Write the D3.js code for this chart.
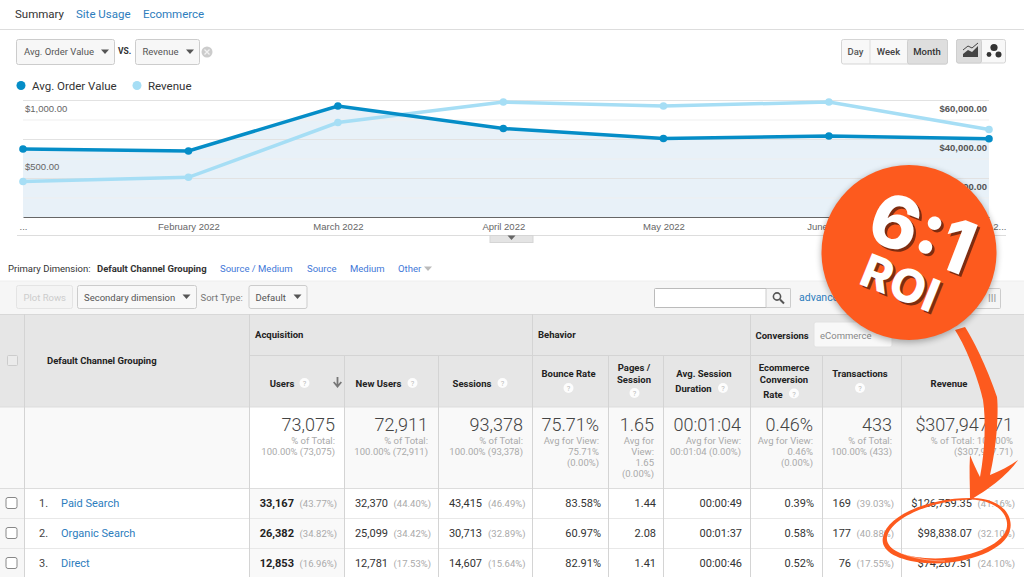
<!DOCTYPE html>
<html>
<head>
<meta charset="utf-8">
<script src="https://cdn.jsdelivr.net/npm/d3@7/dist/d3.min.js"></script>
<style>
  body { margin: 0; background: #fff; }
  svg { display: block; }
  text { font-family: Roboto, sans-serif; }
  .arial { font-family: "Liberation Sans", Arial, sans-serif; }
</style>
</head>
<body>
<div id="chart"></div>
<script>
// chart values
var months = ["2022-01-01", "2022-02-01", "2022-03-01", "2022-04-01", "2022-05-01", "2022-06-01", "2022-07-01"];
var monthLabels = ["...", "February 2022", "March 2022", "April 2022", "May 2022", "June 2022", "July 2..."];
var avgOrderValue = [581, 564, 949, 756, 671, 692, 669];
var revenue = [18200, 20350, 48450, 58950, 56900, 58950, 44900];
var leftTicks = [500, 1000];
var rightTicks = [20000, 40000, 60000];
var gridTicks = [10000, 20000, 30000, 40000, 50000, 60000];

// table values
var channels = ["Paid Search", "Organic Search", "Direct"];
var users = ["33,167", "26,382", "12,853"];
var usersPct = ["(43.77%)", "(34.82%)", "(16.96%)"];
var newUsers = ["32,370", "25,099", "12,781"];
var newUsersPct = ["(44.40%)", "(34.42%)", "(17.53%)"];
var sessions = ["43,415", "30,713", "14,607"];
var sessionsPct = ["(46.49%)", "(32.89%)", "(15.64%)"];
var bounceRate = ["83.58%", "60.97%", "82.91%"];
var pagesSession = ["1.44", "2.08", "1.41"];
var duration = ["00:00:49", "00:01:37", "00:00:46"];
var convRate = ["0.39%", "0.58%", "0.52%"];
var transactions = ["169", "177", "76"];
var transactionsPct = ["(39.03%)", "(40.88%)", "(17.55%)"];
var rowRevenue = ["$126,759.35", "$98,838.07", "$74,207.51"];
var revenuePct = ["(41.16%)", "(32.10%)", "(24.10%)"];
var totals = ["73,075", "72,911", "93,378", "75.71%", "1.65", "00:01:04", "0.46%", "433", "$307,947.71"];
var totalNotes = [
  ["% of Total:", "100.00% (73,075)"],
  ["% of Total:", "100.00% (72,911)"],
  ["% of Total:", "100.00% (93,378)"],
  ["Avg for View:", "75.71%", "(0.00%)"],
  ["Avg for", "View:", "1.65", "(0.00%)"],
  ["Avg for View:", "00:01:04 (0.00%)"],
  ["Avg for View:", "0.46%", "(0.00%)"],
  ["% of Total:", "100.00% (433)"],
  ["% of Total: 100.00%", "($307,947.71)"]
];

var svg = d3.select("#chart").append("svg").attr("width", 1024).attr("height", 577);

function txt(x, y, s, size, color, weight, anchor, cls) {
  return svg.append("text")
    .attr("x", x).attr("y", y)
    .attr("font-size", size)
    .attr("fill", color)
    .attr("font-weight", weight || 400)
    .attr("text-anchor", anchor || "start")
    .attr("class", cls || null)
    .text(s);
}
function box(x, y, w, h, fill, stroke, rx) {
  return svg.append("rect")
    .attr("x", x).attr("y", y).attr("width", w).attr("height", h)
    .attr("fill", fill)
    .attr("stroke", stroke || "none")
    .attr("rx", rx || 0);
}
function hline(x1, x2, y, color) {
  svg.append("line").attr("x1", x1).attr("x2", x2).attr("y1", y).attr("y2", y).attr("stroke", color);
}
function vline(x, y1, y2, color) {
  svg.append("line").attr("x1", x).attr("x2", x).attr("y1", y1).attr("y2", y2).attr("stroke", color);
}
function caret(x, y, color) {
  svg.append("path").attr("d", "M" + (x - 4) + "," + (y - 2) + "h8l-4,4.5z").attr("fill", color || "#555");
}
function help(x, y) {
  svg.append("circle").attr("cx", x).attr("cy", y).attr("r", 5).attr("fill", "#fff").attr("opacity", 0.9);
  txt(x, y + 3, "?", 7.5, "#bbb", 400, "middle");
}

// tabs
txt(15, 18, "Summary", 11.5, "#333");
txt(76, 18, "Site Usage", 11.5, "#2d7dbd");
txt(143, 18, "Ecommerce", 11.5, "#2d7dbd");
hline(0, 1024, 29.5, "#ddd");

// metric selectors
box(16.5, 39.5, 98, 25, "#f7f7f7", "#ccc", 2);
txt(24, 55, "Avg. Order Value", 9.5, "#555");
caret(105, 51.5);
txt(118, 54, "VS.", 8.5, "#333", 700);
box(135.5, 39.5, 64, 25, "#f7f7f7", "#ccc", 2);
txt(142.5, 55, "Revenue", 9.5, "#555");
caret(190, 51.5);
svg.append("circle").attr("cx", 207).attr("cy", 52).attr("r", 5.5).attr("fill", "#ccc");
svg.append("path").attr("d", "M204.5,49.5l5,5m0,-5l-5,5").attr("stroke", "#f2f2f2").attr("stroke-width", 1.3);

// day week month
box(841.5, 39.5, 106, 24.5, "#f8f8f8", "#d5d5d5", 2);
box(907.5, 39.5, 40, 24.5, "#dedede", "#cfcfcf", 2);
vline(870, 39.5, 64, "#ddd");
txt(855.5, 55, "Day", 9.5, "#555", 500, "middle");
txt(888.5, 55, "Week", 9.5, "#444", 500, "middle");
txt(927, 55, "Month", 9.5, "#333", 500, "middle");
box(956.5, 39.5, 49, 23.5, "#f8f8f8", "#d5d5d5", 2);
box(956.5, 39.5, 25, 23.5, "#dcdcdc", "#cfcfcf", 2);
svg.append("path").attr("d", "M963,54l5,-4 4,2 6,-6v11h-15z").attr("fill", "#444");
svg.append("path").attr("d", "M963,50l5,-4 4,2 6,-5").attr("fill", "none").attr("stroke", "#444");
svg.selectAll(".dot3").data([[994, 47.5, 3.6], [989, 54.5, 2.4], [998.5, 54.5, 3]]).enter().append("circle")
  .attr("cx", function (d) { return d[0]; })
  .attr("cy", function (d) { return d[1]; })
  .attr("r", function (d) { return d[2]; })
  .attr("fill", "#333");

// legend
var aovColor = "#058dc7";
var revColor = "#a6def5";
svg.append("circle").attr("cx", 21).attr("cy", 85.5).attr("r", 4.5).attr("fill", aovColor);
txt(32, 90, "Avg. Order Value", 11.5, "#333");
svg.append("circle").attr("cx", 137).attr("cy", 85.5).attr("r", 4.5).attr("fill", revColor);
txt(148, 90, "Revenue", 11.5, "#333");

// line chart
var parse = d3.timeParse("%Y-%m-%d");
var dates = months.map(parse);
var x = d3.scaleTime().domain([dates[0], dates[dates.length - 1]]).range([23, 989]);
var yLeft = d3.scaleLinear().domain([0, 1000]).range([217, 100]);
var yRight = d3.scaleLinear().domain([0, 60000]).range([217, 100]);

var area = d3.area()
  .x(function (d, i) { return x(dates[i]); })
  .y0(yLeft(0))
  .y1(function (d) { return yLeft(d); });
svg.append("path").datum(avgOrderValue).attr("d", area).attr("fill", "#e8f1f8");

svg.append("g").selectAll("line").data(gridTicks).enter().append("line")
  .attr("x1", 23).attr("x2", 989)
  .attr("y1", function (d) { return yRight(d) + 0.5; })
  .attr("y2", function (d) { return yRight(d) + 0.5; })
  .attr("stroke", function (d) { return d % 20000 == 0 ? "#e2e2e2" : "#efefef"; });

// x axis
var xAxis = d3.axisBottom(x)
  .tickValues(dates)
  .tickSize(0)
  .tickPadding(6)
  .tickFormat(function (d, i) { return monthLabels[i]; });
var gx = svg.append("g").attr("transform", "translate(0,217)").call(xAxis);
gx.select(".domain").attr("stroke", "#666").attr("stroke-width", 1);
gx.selectAll("text").attr("class", "arial").attr("font-size", 9.5).attr("fill", "#666");
gx.selectAll(".tick:last-child text").attr("text-anchor", "end").attr("dx", 17);

var gl = svg.append("g").attr("transform", "translate(25,8)")
  .call(d3.axisRight(yLeft).tickValues(leftTicks).tickSize(0).tickPadding(0)
    .tickFormat(function (d) { return "$" + d3.format(",.2f")(d); }));
gl.select(".domain").remove();
gl.selectAll("text").attr("class", "arial").attr("font-size", 9.5).attr("fill", "#666");

var gr = svg.append("g").attr("transform", "translate(987,8)")
  .call(d3.axisLeft(yRight).tickValues(rightTicks).tickSize(0).tickPadding(0)
    .tickFormat(function (d) { return "$" + d3.format(",.2f")(d); }));
gr.select(".domain").remove();
gr.selectAll("text").attr("class", "arial").attr("font-size", 9.5).attr("font-weight", 700).attr("fill", "#555");

function series(values, y, color) {
  var line = d3.line()
    .x(function (d, i) { return x(dates[i]); })
    .y(function (d) { return y(d); });
  svg.append("path").datum(values).attr("d", line)
    .attr("fill", "none").attr("stroke", color).attr("stroke-width", 3.5);
  svg.append("g").selectAll("circle").data(values).enter().append("circle")
    .attr("cx", function (d, i) { return x(dates[i]); })
    .attr("cy", function (d) { return y(d); })
    .attr("r", 3.8)
    .attr("fill", color);
}
series(revenue, yRight, revColor);
series(avgOrderValue, yLeft, aovColor);

// bottom of chart
hline(17, 1006, 235.5, "#ddd");
box(490, 235.5, 43, 7, "#e4e4e4", "#d5d5d5");
caret(511.5, 237.5, "#666");

// dimension row
txt(8, 272, "Primary Dimension:", 9.5, "#333");
txt(97, 272, "Default Channel Grouping", 9.5, "#333", 700);
var dimLinks = [[220, "Source / Medium"], [307, "Source"], [350, "Medium"], [398, "Other"]];
dimLinks.forEach(function (d) { txt(d[0], 272, d[1], 9.5, "#3f78d8"); });
caret(428, 268.5, "#bbb");

// toolbar band
box(0, 281, 1024, 33, "#f6f6f6");
hline(0, 1024, 281, "#eee");
box(16.5, 285.5, 56, 23, "#f4f4f4", "#e4e4e4", 2);
txt(23.5, 300.5, "Plot Rows", 9.5, "#ccc");
box(77.5, 285.5, 119, 23, "#f8f8f8", "#ccc", 2);
txt(84, 300.5, "Secondary dimension", 9.5, "#555");
caret(186.5, 296.5);
txt(200.5, 300.5, "Sort Type:", 9.5, "#777");
box(249, 285.5, 58, 23, "#f8f8f8", "#ccc", 2);
txt(255.5, 300.5, "Default", 9.5, "#555");
caret(297.5, 296.5);
box(654.5, 288.5, 136, 19, "#fff", "#bbb", 1);
box(766, 288.5, 24.5, 19, "#f5f5f5", "#ccc", 1);
svg.append("circle").attr("cx", 777).attr("cy", 296.5).attr("r", 3.6).attr("fill", "none").attr("stroke", "#555").attr("stroke-width", 1.6);
svg.append("path").attr("d", "M780,299.5l4,4").attr("stroke", "#555").attr("stroke-width", 2);
txt(799, 301, "advanced", 10.5, "#2d7dbd");
box(975.5, 288.5, 25, 20, "#f5f5f5", "#ccc", 1);
txt(988, 302, "III", 10, "#999");

// table
var colEdges = [24.5, 249.5, 344.5, 438.5, 532.5, 608.5, 663.5, 750.5, 822.5, 901.5, 1024];
var headTop = 314, headMid = 355, headBottom = 407, rowTops = [489, 519, 549], tableBottom = 577;

box(0, headTop, 1024, headBottom - headTop, "#e6e6e6");
box(0, headBottom, 1024, rowTops[0] - headBottom, "#f9f9f9");
box(colEdges[1], headBottom, colEdges[2] - colEdges[1], rowTops[0] - headBottom, "#fff");
box(0, rowTops[0], 24.5, tableBottom - rowTops[0], "#f7f7f7");
box(colEdges[1], rowTops[0], colEdges[2] - colEdges[1], tableBottom - rowTops[0], "#f9f9f9");
hline(0, 1024, headTop + 0.5, "#d8d8d8");
hline(colEdges[1], 1024, headMid + 0.5, "#d4d4d4");
hline(0, 1024, headBottom, "#ddd");
hline(0, 1024, rowTops[0] - 0.5, "#ddd");
hline(0, 1024, rowTops[1] - 0.5, "#e8e8e8");
hline(0, 1024, rowTops[2] - 0.5, "#e8e8e8");
colEdges.slice(0, 2).forEach(function (e) { vline(e, headTop, tableBottom, "#d4d4d4"); });
colEdges.slice(2, 10).forEach(function (e, i) {
  var top = (e == colEdges[4] || e == colEdges[7]) ? headTop : headMid;
  vline(e, top, tableBottom, "#d4d4d4");
});

// header labels
box(7.5, 355.5, 10, 10, "#ebebeb", "#ccc", 1);
txt(47, 364, "Default Channel Grouping", 9.5, "#222", 700);
txt(255, 338, "Acquisition", 9.5, "#222", 700);
txt(538, 338, "Behavior", 9.5, "#222", 700);
txt(755.5, 339, "Conversions", 9.5, "#222", 700);
box(814, 322, 78, 25, "#f8f8f8", "#e2e2e2", 2);
txt(820, 338.5, "eCommerce", 9.5, "#888");

var headLabels = [
  [282, 387, "Users"], [378.5, 387, "New Users"], [472, 387, "Sessions"],
  [568.5, 377, "Bounce Rate"], [634, 371, "Pages /"], [634, 382.5, "Session"],
  [704, 377, "Avg. Session"], [693.5, 392, "Duration"],
  [784, 371, "Ecommerce"], [784, 382.5, "Conversion"], [773, 397.5, "Rate"],
  [860, 377, "Transactions"], [949, 387, "Revenue"]
];
headLabels.forEach(function (d) { txt(d[0], d[1], d[2], 9.5, "#222", 700, "middle"); });
[[304.5, 383], [412.5, 383], [502.5, 383], [568.5, 388], [634.5, 393], [723, 388], [794, 393.5], [860, 388]]
  .forEach(function (d) { help(d[0], d[1]); });
svg.append("path").attr("d", "M337.5,377v9m-3.8,-4l3.8,4.5 3.8,-4.5").attr("fill", "none").attr("stroke", "#777").attr("stroke-width", 1.8);

// totals row
var totalRight = [335, 428, 523, 599, 654, 741, 813, 892, 1013];
totals.forEach(function (t, i) {
  txt(totalRight[i], 431, t, 18, "#444", 300, "end");
  totalNotes[i].forEach(function (n, j) {
    txt(totalRight[i], 444 + j * 11, n, 9.5, "#aaa", 400, "end");
  });
});

// rows
var rowY = function (i) { return rowTops[i] + 18; };
var cols = [
  { v: users, end: 294, bold: true, pct: usersPct, pctEnd: 337 },
  { v: newUsers, end: 388, pct: newUsersPct, pctEnd: 431 },
  { v: sessions, end: 482, pct: sessionsPct, pctEnd: 525.5 },
  { v: bounceRate, end: 601 },
  { v: pagesSession, end: 656 },
  { v: duration, end: 742 },
  { v: convRate, end: 814 },
  { v: transactions, end: 851, pct: transactionsPct, pctEnd: 894 },
  { v: rowRevenue, end: 972, pct: revenuePct, pctEnd: 1015 }
];
channels.forEach(function (c, i) {
  box(6, rowTops[i] + 8.5, 11, 11, "#fff", "#888", 2);
  txt(39, rowY(i), (i + 1) + ".", 11, "#444");
  txt(61, rowY(i), c, 11, "#2d7dbd");
  cols.forEach(function (col) {
    txt(col.end, rowY(i), col.v[i], 11, col.bold ? "#222" : "#333", col.bold ? 700 : 400, "end");
    if (col.pct) txt(col.pctEnd, rowY(i), col.pct[i], 9.5, "#aaa", 400, "end");
  });
});

// roi badge and arrow on top
var orange = "#fd5a1e";
var defs = svg.append("defs");
var blur = defs.append("filter").attr("id", "soft").attr("x", "-20%").attr("y", "-20%").attr("width", "140%").attr("height", "140%");
blur.append("feGaussianBlur").attr("stdDeviation", 3);

// hand drawn ring, thin on top and thick underneath
svg.append("path")
  .attr("fill-rule", "evenodd")
  .attr("d", "M970,498C1000,497 1014,515 1010,530C1005,552 960,566 925,563C895,560 880,550 883,537C887,515 930,498 970,498Z"
    + "M970,499.5C998,500 1010,516 1006.5,529C1001,548 960,561 925,558C898,556 885.5,547 887,537C891,518 930,501 970,499.5Z")
  .attr("fill", orange);
svg.append("path").attr("d", "M890,546C900,556 925,561 945,561")
  .attr("fill", "none").attr("stroke", "#fff").attr("stroke-width", 0.6).attr("opacity", 0.7);

// arrow
svg.append("path")
  .attr("d", "M965,327C975,342 990,375 997,397C999,415 996,450 990,475C1000,471 1010,466 1018,460C1008,475 985,492 970,500C970,485 969,470 970,455C973,463 977,471 980,477C985,450 986,420 983,400C980,385 968,350 955,330Z")
  .attr("fill", orange);

svg.append("circle").attr("cx", 909).attr("cy", 254.5).attr("r", 88).attr("fill", "#000").attr("opacity", 0.28).attr("filter", "url(#soft)");
svg.append("circle").attr("cx", 909).attr("cy", 252.5).attr("r", 87.5).attr("fill", orange);

function badge(s, cx, cy, size, angle, weight) {
  [["#7e2c10", 2.5, 2.5], ["#fff", 0, 0]].forEach(function (l) {
    svg.append("text")
      .attr("transform", "translate(" + (cx + l[1]) + "," + (cy + l[2]) + ") rotate(" + angle + ")")
      .attr("text-anchor", "middle")
      .attr("font-size", size)
      .attr("font-weight", weight)
      .attr("fill", l[0])
      .style("font-family", "Inter, Roboto, sans-serif")
      .text(s);
  });
}
badge("6:1", 913, 257, 73, 21, 800);
badge("ROI", 894, 298, 46, 22, 800);
</script>
</body>
</html>
